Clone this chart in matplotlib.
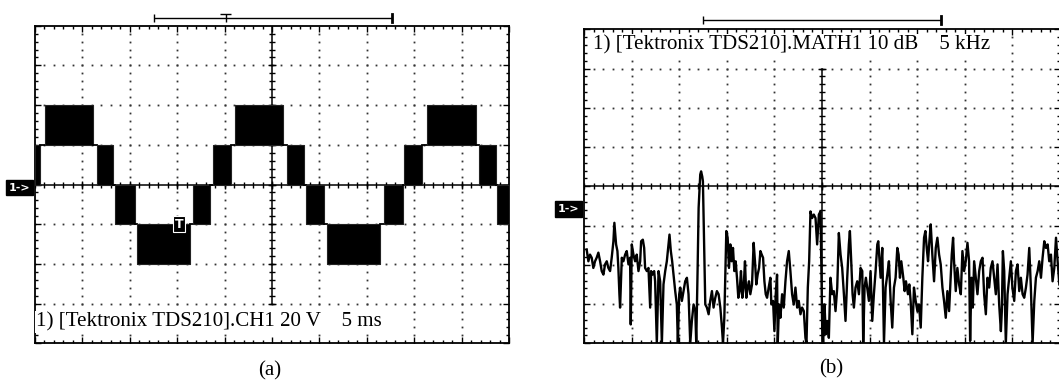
import numpy as np
import matplotlib.pyplot as plt

plt.rcParams['font.family'] = ['Liberation Serif', 'DejaVu Serif']

# (a) inverter output voltage: PWM bands, 5 ms/div, 20 V/div
blk_start = [0.0, 1.05, 6.5, 8.4, 10.8, 16.65, 18.75, 21.1, 26.6, 28.55,
             30.8, 36.8, 38.9, 41.4, 46.85, 48.75]
blk_end = [0.5, 6.1, 8.25, 10.5, 16.35, 18.5, 20.65, 26.2, 28.35, 30.45,
           36.4, 38.85, 40.8, 46.55, 48.65, 50.0]
blk_low = [0, 20, 0, -20, -40, -20, 0, 20, 0, -20, -40, -20, 0, 20, 0, -20]
blk_high = [20, 40, 20, 0, -20, 0, 20, 40, 20, 0, -20, 0, 20, 40, 20, 0]

# (b) FFT of the output, 5 kHz/div, 10 dB/div
freq = [0.28, 0.46, 0.63, 0.81, 0.98, 1.16, 1.33, 1.51, 1.69, 1.86, 2.04, 2.21, 2.39, 2.56, 2.74, 2.91,
        3.09, 3.19, 3.37, 3.51, 3.61, 3.72, 3.79, 3.97, 4.14, 4.32, 4.49, 4.67, 4.84, 4.91, 5.02, 5.19,
        5.37, 5.54, 5.72, 5.90, 6.0, 6.18, 6.32, 6.42, 6.6, 6.77, 6.95, 7.05, 7.19, 7.37, 7.47, 7.65,
        7.83, 8.0, 8.18, 8.35, 8.53, 8.7, 8.88, 8.98, 9.12, 9.26, 9.4, 9.58, 9.75, 9.86, 10.0, 10.11,
        10.28, 10.46, 10.63, 10.81, 10.98, 11.16, 11.33, 11.51, 11.69, 11.79, 11.93, 12.04, 12.21, 12.3,
        12.42, 12.49, 12.63, 12.74, 12.91, 13.09, 13.26, 13.44, 13.61, 13.79, 13.96, 14.14, 14.32, 14.49,
        14.6, 14.74, 14.88, 14.95, 15.09, 15.23, 15.37, 15.51, 15.65, 15.79, 15.93, 16.07, 16.21, 16.35,
        16.49, 16.63, 16.77, 16.91, 17.05, 17.19, 17.33, 17.47, 17.65, 17.82, 17.96, 18.1, 18.24, 18.39,
        18.53, 18.67, 18.81, 18.95, 19.09, 19.23, 19.4, 19.58, 19.68, 19.86, 20.0, 20.14, 20.28, 20.35,
        20.49, 20.63, 20.81, 20.98, 21.16, 21.33, 21.51, 21.68, 21.86, 22.03, 22.21, 22.39, 22.56, 22.74,
        22.91, 23.09, 23.26, 23.37, 23.51, 23.65, 23.79, 23.96, 24.14, 24.32, 24.49, 24.67, 24.84, 24.93,
        25.02, 25.12, 25.26, 25.4, 25.54, 25.72, 25.89, 26.07, 26.24, 26.42, 26.6, 26.77, 26.95, 27.12,
        27.3, 27.47, 27.65, 27.82, 27.93, 28.07, 28.21, 28.35, 28.52, 28.7, 28.88, 29.05, 29.23, 29.33,
        29.47, 29.61, 29.75, 29.93, 30.1, 30.28, 30.45, 30.63, 30.81, 30.91, 31.05, 31.16, 31.33, 31.51,
        31.68, 31.86, 32.03, 32.21, 32.38, 32.56, 32.73, 32.91, 33.05, 33.19, 33.33, 33.54, 33.68, 33.82,
        34.03, 34.17, 34.31, 34.49, 34.66, 34.84, 35.02, 35.19, 35.37, 35.54, 35.72, 35.86, 36.0, 36.14,
        36.28, 36.42, 36.59, 36.77, 36.95, 37.12, 37.3, 37.47, 37.65, 37.82, 38.0, 38.17, 38.35, 38.52,
        38.63, 38.77, 38.87, 39.05, 39.22, 39.4, 39.58, 39.75, 39.93, 40.1, 40.28, 40.45, 40.56, 40.7,
        40.84, 40.98, 41.15, 41.33, 41.51, 41.68, 41.86, 42.03, 42.21, 42.38, 42.56, 42.73, 42.91, 43.08,
        43.26, 43.44, 43.61, 43.79, 43.89, 44.0, 44.14, 44.31, 44.49, 44.66, 44.84, 45.0, 45.19, 45.37,
        45.54, 45.72, 45.89, 46.07, 46.24, 46.42, 46.59, 46.77, 46.94, 47.12, 47.3, 47.47, 47.65, 47.82,
        48.0, 48.17, 48.35, 48.52, 48.7, 48.87, 49.05, 49.22, 49.4, 49.58, 49.75, 49.93]
level = [-16.1, -19.1, -17.4, -18.2, -20.8, -19.1, -18.2, -16.9, -19.1, -21.6, -22.5, -19.9, -19.1, -20.8, -21.6, -18.2,
         -14.0, -9.3, -14.8, -16.5, -20.8, -27.5, -30.9, -18.2, -19.1, -17.4, -16.5, -19.9, -18.2, -35.2, -14.8, -17.4,
         -19.1, -17.4, -21.6, -19.1, -14.0, -13.6, -15.7, -20.8, -21.6, -20.8, -30.9, -21.6, -22.5, -21.6, -24.2, -40.0,
         -21.6, -24.2, -40.0, -25.0, -21.6, -19.1, -14.8, -12.3, -16.5, -19.1, -22.5, -26.7, -30.1, -40.0, -27.5, -25.8,
         -29.2, -26.7, -24.2, -23.3, -27.5, -40.0, -34.3, -30.1, -31.8, -40.0, -21.6, -5.5, 3.0, 3.8,
         2.5, 1.3, -15.7, -30.1, -30.9, -32.6, -29.2, -26.7, -30.9, -28.4, -26.7, -27.5, -30.9, -36.0,
         -40.0, -33.5, -19.1, -11.4, -13.1, -20.8, -14.8, -19.1, -15.7, -21.6, -19.1, -23.3, -28.4, -26.7,
         -21.6, -28.4, -25.8, -19.1, -28.4, -25.8, -24.2, -27.5, -25.0, -14.4, -19.1, -25.0, -22.5, -20.8,
         -16.5, -17.4, -18.2, -24.2, -27.5, -28.4, -25.8, -23.3, -30.1, -29.2, -36.9, -27.5, -22.5, -40.0,
         -30.1, -33.5, -27.5, -30.9, -24.2, -19.1, -16.5, -21.6, -27.5, -30.1, -25.8, -30.9, -29.2, -32.6,
         -30.9, -31.8, -38.6, -40.0, -25.8, -19.1, -6.4, -8.1, -7.2, -8.1, -14.8, -7.2, -6.4, -20.0,
         -36.0, -40.0, -30.1, -37.7, -34.3, -38.6, -23.3, -27.5, -26.7, -31.8, -25.8, -11.9, -17.4, -20.8,
         -27.5, -34.3, -23.3, -14.8, -11.4, -19.1, -27.5, -30.9, -25.8, -24.2, -27.5, -20.8, -21.6, -40.0,
         -25.8, -23.3, -25.8, -29.2, -21.6, -34.3, -27.5, -21.6, -14.8, -14.0, -19.1, -23.3, -15.7, -40.0,
         -25.8, -22.5, -19.1, -29.2, -36.0, -25.8, -23.3, -15.7, -17.4, -23.3, -19.1, -23.3, -26.7, -24.2,
         -27.5, -25.0, -29.2, -37.7, -25.8, -29.2, -31.8, -30.1, -36.0, -23.3, -13.1, -11.4, -15.7, -19.1,
         -14.0, -9.7, -17.4, -24.2, -15.7, -13.1, -17.4, -19.9, -25.8, -29.2, -33.5, -26.7, -31.8, -23.3,
         -17.4, -13.1, -19.1, -26.7, -20.8, -25.0, -27.5, -16.5, -21.6, -19.1, -14.4, -19.1, -39.4, -23.3,
         -30.9, -19.1, -23.3, -27.5, -21.6, -19.1, -18.2, -27.5, -32.6, -23.3, -25.8, -20.8, -19.1, -23.3,
         -27.5, -19.9, -30.1, -36.9, -31.8, -16.5, -21.6, -40.0, -27.5, -23.3, -19.1, -25.8, -29.2, -21.6,
         -19.9, -26.7, -23.3, -27.5, -28.4, -25.8, -22.5, -15.7, -25.8, -40.0, -29.2, -23.3, -21.6, -19.1,
         -23.3, -18.2, -14.0, -15.7, -14.8, -19.1, -17.4, -24.2, -20.8, -13.1, -19.1, -25.0]

W, H = 1059, 381
fig = plt.figure(figsize=(W / 100, H / 100), dpi=100)


def graticule(ax, xmax, ymax, vlo, vhi):
    # vlo..vhi: part of the vertical centre line that is drawn (text rows hide the rest)
    dx, dy = xmax / 10, ymax / 4
    ax.set_xticks(np.arange(0, xmax + dx / 2, dx))
    ax.set_xticks(np.arange(0, xmax + dx / 2, dx / 5), minor=True)
    ax.set_yticks(np.arange(-ymax, ymax + dy / 2, dy))
    ax.set_yticks(np.arange(-ymax, ymax + dy / 2, dy / 5), minor=True)
    ax.tick_params(which='both', direction='in', top=True, right=True,
                   labelbottom=False, labelleft=False, color='black', width=1.0)
    ax.tick_params(which='major', length=4.5)
    ax.tick_params(which='minor', length=2.2)
    for s in ax.spines.values():
        s.set_linewidth(1.3)
    # dotted graticule
    ys = np.arange(-ymax, ymax, dy / 5)
    xs = np.arange(0, xmax, dx / 5)
    for k in range(1, 10):
        if k != 5:
            ax.plot(np.full(len(ys), k * dx), ys, ls='none', marker='s', ms=1.3,
                    mew=0, color='#333333', zorder=1)
    for j in (-3, -2, -1, 1, 2, 3):
        ax.plot(xs, np.full(len(xs), j * dy), ls='none', marker='s', ms=1.3,
                mew=0, color='#333333', zorder=1)
    # centre cross with small ticks
    ax.axhline(0, color='black', lw=1.1, zorder=1)
    ax.plot([xmax / 2, xmax / 2], [vlo, vhi], color='black', lw=1.1, zorder=1)
    yc = ys[(ys >= vlo) & (ys <= vhi)]
    ax.plot(xs, np.zeros(len(xs)), ls='none', marker='|', ms=4, mew=1.0, color='black', zorder=1)
    ax.plot(np.full(len(yc), xmax / 2), yc, ls='none', marker='_', ms=4, mew=1.0, color='black', zorder=1)
    ax.plot(np.arange(dx, xmax, dx), np.zeros(9), ls='none', marker='|', ms=6, mew=1.0, color='black', zorder=1)
    yd = np.arange(-ymax + dy, ymax, dy)
    yd = yd[(yd >= vlo) & (yd <= vhi)]
    ax.plot(np.full(len(yd), xmax / 2), yd, ls='none', marker='_', ms=6, mew=1.0,
            color='black', zorder=1)


def bracket(ax, x0, x1, y, h, xt=None):
    kw = dict(color='black', lw=1.0, clip_on=False, solid_capstyle='butt')
    ax.plot([x0, x1], [y, y], **kw)
    ax.plot([x0, x0], [y - h, y + h], **kw)
    ax.plot([x1, x1], [y - h, y + h], color='black', lw=2.0, clip_on=False)
    if xt is not None:
        ax.plot([xt, xt], [y - h, y + h], **kw)
        ax.plot([xt - 0.6, xt + 0.6], [y + h, y + h], **kw)


txt_box = dict(boxstyle='square,pad=0.05', fc='white', ec='none')
tag_box = dict(boxstyle='square,pad=0.25', fc='black', ec='black')

# ---------------- panel (a)
ax1 = fig.add_axes([35 / W, 1 - 343.3 / H, 474 / W, 317.6 / H])
graticule(ax1, 50, 80, -60, 80)
for i in range(len(blk_start)):
    ax1.fill_between([blk_start[i], blk_end[i]], blk_low[i], blk_high[i],
                     color='black', lw=0.8, edgecolor='#222222', zorder=3)
    if i + 1 < len(blk_start):
        shared = set([blk_low[i], blk_high[i]]) & set([blk_low[i + 1], blk_high[i + 1]])
        for lv in shared:
            ax1.plot([blk_end[i], blk_start[i + 1]], [lv, lv], color='black', lw=1.3, zorder=3)
ax1.text(0.002, 0.052, '1) [Tektronix TDS210].CH1 20 V    5 ms', transform=ax1.transAxes,
         fontsize=15.1, va='baseline', ha='left', zorder=5, bbox=txt_box)
ax1.text(15.2, -20, 'T', fontsize=9, color='white', family='DejaVu Sans', weight='bold',
         ha='center', va='center', zorder=6,
         bbox=dict(boxstyle='square,pad=0.12', fc='black', ec='white', lw=0.8))
ax1.text(-0.5, -1.6, '1->', fontsize=8, color='white', family='DejaVu Sans', weight='bold',
         ha='right', va='center', clip_on=False, bbox=tag_box)
bracket(ax1, 12.5, 37.7, 83.7, 2.0, xt=20.1)
ax1.set_xlim(0, 50)
ax1.set_ylim(-80, 80)
fig.text(270 / W, 1 - 371 / H, '(a)', fontsize=15, ha='center', va='center')

# ---------------- panel (b)
ax2 = fig.add_axes([584 / W, 1 - 343.3 / H, 476 / W, 314 / H])
graticule(ax2, 50, 40, -40, 30)
ax2.plot(freq, level, color='black', lw=1.7, zorder=3)
ax2.text(0.019, 0.935, '1) [Tektronix TDS210].MATH1 10 dB    5 kHz', transform=ax2.transAxes,
         fontsize=15.1, va='baseline', ha='left', zorder=5, bbox=txt_box)
ax2.text(-0.5, -5.8, '1->', fontsize=8, color='white', family='DejaVu Sans', weight='bold',
         ha='right', va='center', clip_on=False, bbox=tag_box)
bracket(ax2, 12.5, 37.5, 42.3, 1.0)
ax2.set_xlim(0, 50)
ax2.set_ylim(-40, 40)
fig.text(831 / W, 1 - 369 / H, '(b)', fontsize=15, ha='center', va='center')

fig.savefig('out.png', dpi=100)
